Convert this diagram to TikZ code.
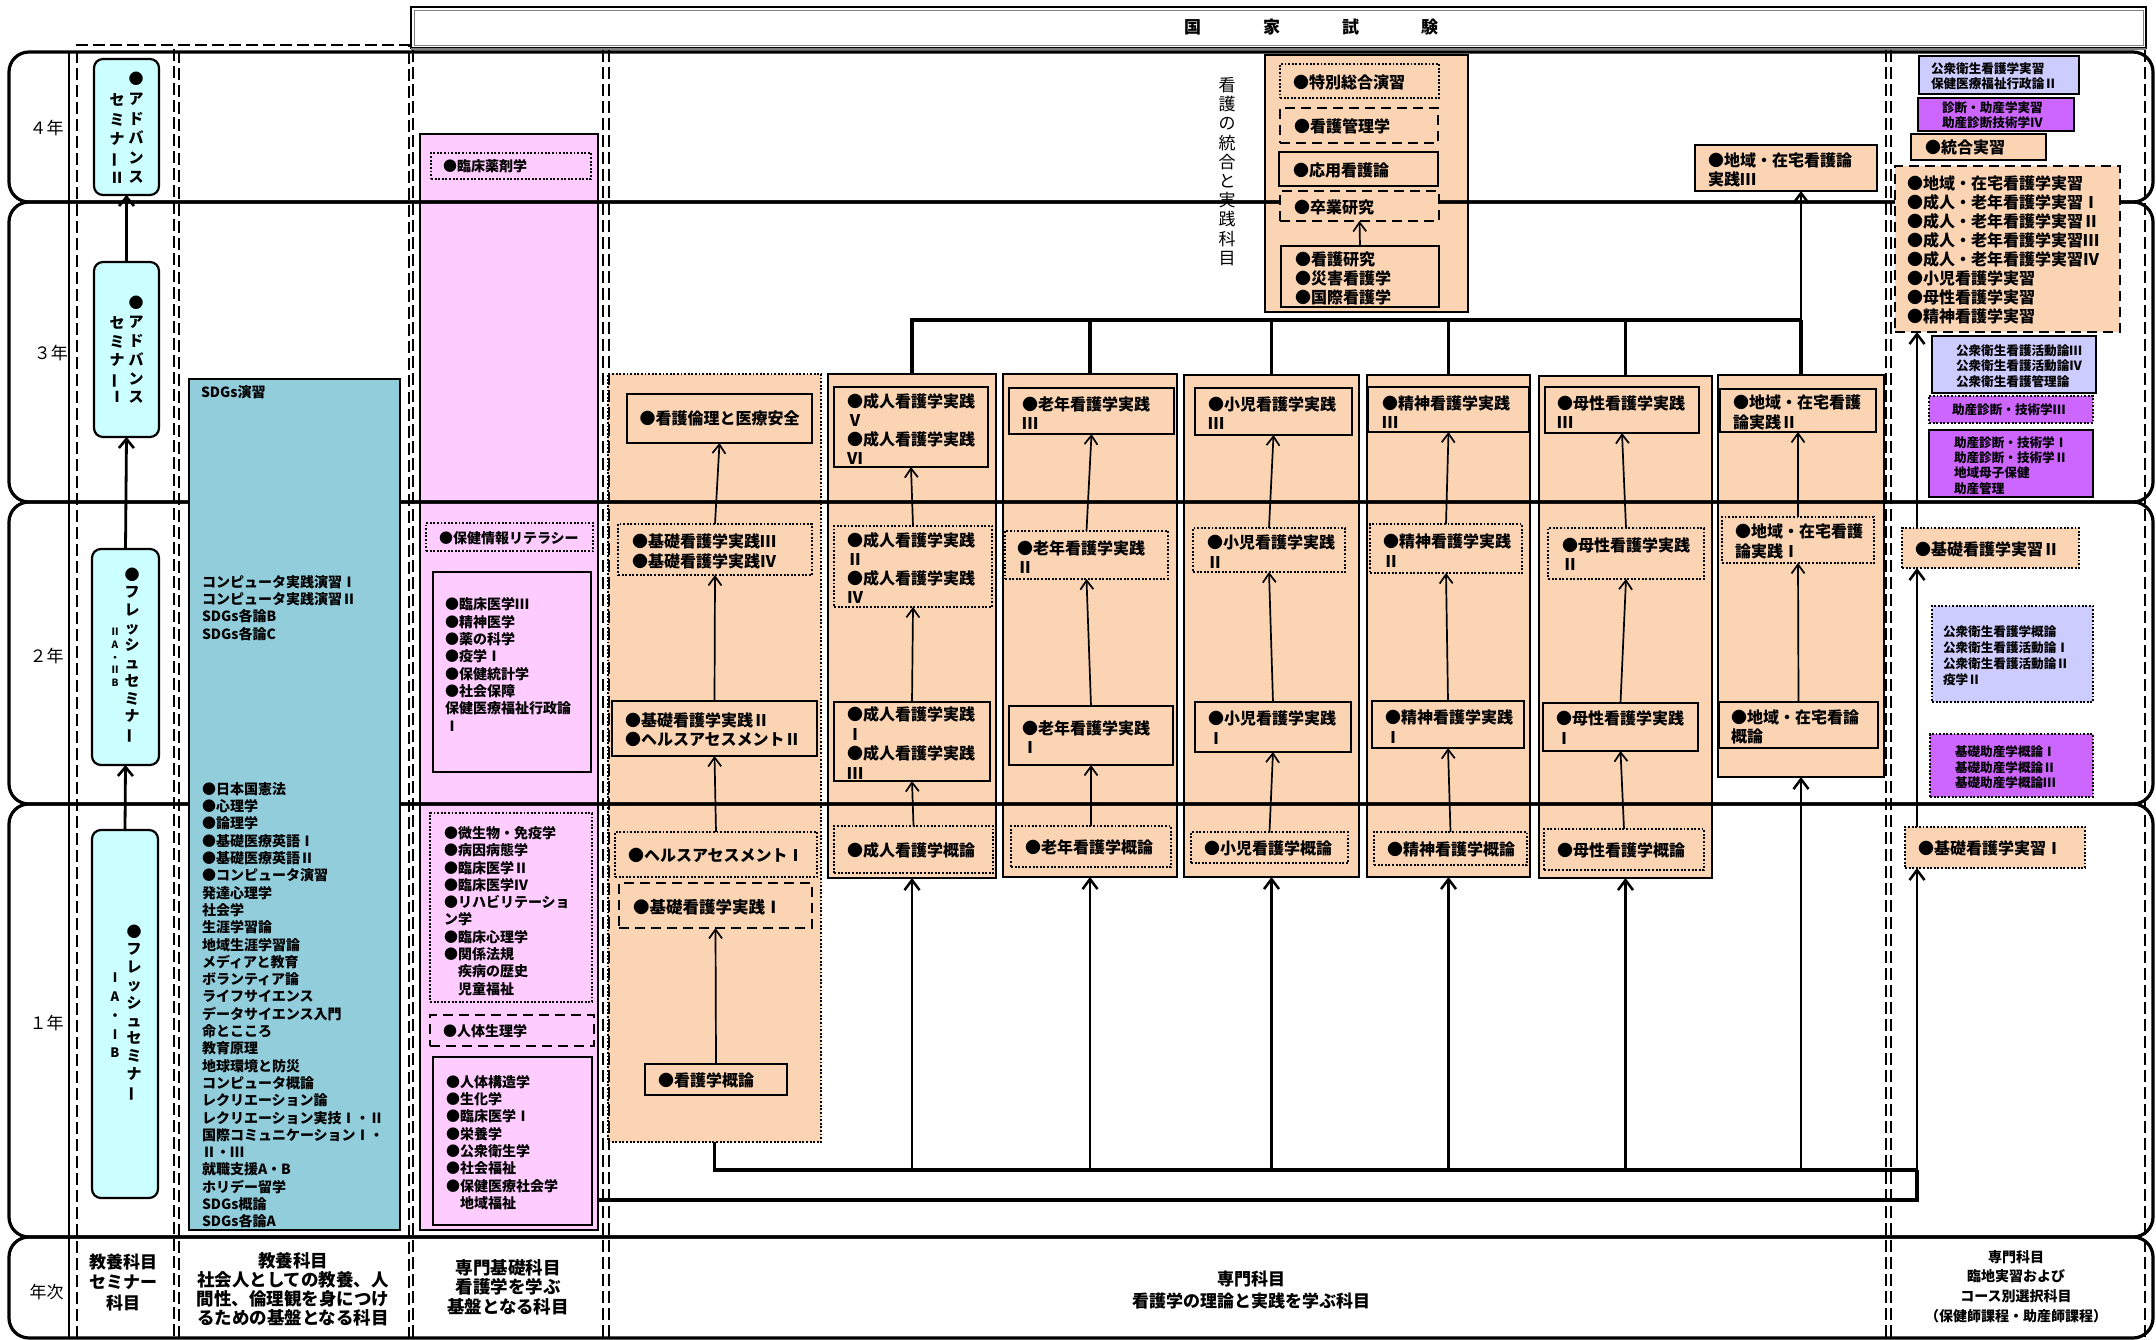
\documentclass[tikz,border=0pt]{standalone}
\usepackage{fontspec}
\setmainfont{Noto Sans CJK JP}
\usetikzlibrary{arrows.meta}
\definecolor{orF}{HTML}{FBD4B4}
\definecolor{pinkF}{HTML}{FFCCFF}
\definecolor{tealF}{HTML}{92CDDC}
\definecolor{cyanF}{HTML}{CCFFFF}
\definecolor{lavF}{HTML}{CCCCFF}
\definecolor{purF}{HTML}{CC66FF}
\newcommand\zfs[2]{\fontsize{#1pt}{#2pt}\selectfont}
\newcommand\zfT{\bfseries\zfs{14}{17.3}}
\newcommand\zfO{\bfseries\zfs{16}{19.3}}
\newcommand\zfR{\bfseries\zfs{12.6}{15.3}}
\newcommand\zv{\rotatebox[origin=c]{90}{ー}}
\newcommand\bx[6][]{\node[#1, anchor=north west, minimum width={(#5-#3)*1pt}, minimum height={(#6-#4)*1pt}, inner sep=0pt, outer sep=0pt] (#2) at (#3,#4) {};}
\newcommand\tx[5]{\node[inner sep=0pt, outer sep=0pt, anchor=west, align=left, font=#4] (#1) at (#2,#3) {#5};}
\tikzset{
  frame/.style={line width=3.2pt, rounded corners=20pt},
  coldash/.style={line width=1.8pt, dash pattern=on 12pt off 5pt},
  sbox/.style={draw, line width=2.2pt},
  dotbox/.style={draw, line width=1.9pt, dash pattern=on 1.9pt off 1.7pt},
  dashbox/.style={draw, line width=2.2pt, dash pattern=on 10pt off 6pt},
  sem/.style={draw, line width=2.2pt, fill=cyanF, rounded corners=9pt},
  arr/.style={line width=1.7pt, -{Straight Barb[length=9pt,width=13pt,line width=1.7pt]}},
  semarr/.style={line width=2.8pt, -{Straight Barb[length=9pt,width=15pt,line width=2.6pt]}},
  thkarr/.style={line width=2.8pt, -{Straight Barb[length=10pt,width=15pt,line width=2.5pt]}},
  thkline/.style={line width=3.6pt},
  conn/.style={line width=3.2pt},
  vt/.style={inner sep=0pt, outer sep=0pt, align=center},
  lbl/.style={inner sep=0pt, outer sep=0pt, align=center}
}
\begin{document}
\begin{tikzpicture}[x=1pt,y=-1pt]
\useasboundingbox (0,0) rectangle (2156,1340);
% top box
\bx[draw, line width=1.2pt]{kokka}{411}{7}{2146}{48}
\draw[line width=0.8pt, gray] (414,10) rectangle (2143,45);
\draw[line width=2pt, gray] (411,49) -- (2146,49);
\node[lbl, font=\bfseries\zfs{17}{20}] (kokkat) at (1311,27) {国\hspace{62pt}家\hspace{62pt}試\hspace{62pt}験};
% column backgrounds
\bx[draw, line width=2.2pt, fill=pinkF]{pinkbox}{420}{134}{598}{1230}
\bx[dotbox, fill=orF]{c1}{608}{374}{821}{1142}
\bx[sbox, fill=orF]{c2}{828}{374}{996}{878}
\bx[sbox, fill=orF]{c3}{1003}{374}{1177}{877}
\bx[sbox, fill=orF]{c4}{1184}{375}{1359}{877}
\bx[sbox, fill=orF]{c5}{1367}{375}{1530}{877}
\bx[sbox, fill=orF]{c6}{1539}{376}{1712}{878}
\bx[sbox, fill=orF]{c7}{1718}{375}{1884}{777}
\bx[sbox, fill=orF]{c4y}{1265}{55}{1468}{312}
% row frames
\foreach \a/\b in {52/202, 202/502, 502/804, 804/1237, 1237/1338}
  \draw[frame] (9,\a) rectangle (2153,\b);
\draw[line width=2.6pt] (69,52) -- (69,1338);
% column dashed frames
\draw[coldash] (77,1338) -- (77,45) -- (174,45) -- (174,1338);
\draw[coldash] (179,1338) -- (179,45) -- (409,45) -- (409,1338);
\draw[coldash] (413,50) -- (413,1338);
\draw[coldash] (603,50) -- (603,1338);
\draw[coldash] (609,50) -- (609,1338);
\draw[coldash] (1886,50) -- (1886,1338);
\draw[coldash] (1891,50) -- (1891,1338);
\draw[coldash] (2145,50) -- (2145,1338);
% year labels
\node[lbl, font=\zfs{17}{20}] (yr4) at (46.5,128) {４年};
\node[lbl, font=\zfs{17}{20}] (yr3) at (51,353) {３年};
\node[lbl, font=\zfs{17}{20}] (yr2) at (46.5,656) {２年};
\node[lbl, font=\zfs{17}{20}] (yr1) at (46.5,1023) {１年};
\node[lbl, font=\zfs{17}{20}] (yrn) at (46.5,1292) {年次};
% seminar boxes
\bx[sem]{s4}{94}{59}{159}{195}
\bx[sem]{s3}{94}{262}{159}{437}
\bx[sem]{s2}{92}{549}{159}{765}
\bx[sem]{s1}{92}{830}{158}{1198}
\node[vt, font=\bfseries\zfs{15}{19.6}] (s4r) at (136,128) {●\\ア\\ド\\バ\\ン\\ス};
\node[vt, font=\bfseries\zfs{15}{19.3}] (s4l) at (117,138.5) {セ\\ミ\\ナ\\\zv\\Ⅱ};
\node[vt, font=\bfseries\zfs{15}{18.8}] (s3r) at (136,350) {●\\ア\\ド\\バ\\ン\\ス};
\node[vt, font=\bfseries\zfs{15}{18.5}] (s3l) at (117,360) {セ\\ミ\\ナ\\\zv\\Ⅰ};
\node[vt, font=\bfseries\zfs{15}{17.7}] (s2r) at (132,655.5) {●\\フ\\レ\\ッ\\シ\\ュ\\セ\\ミ\\ナ\\\zv};
\node[vt, font=\bfseries\zfs{10}{12.7}] (s2l) at (115,657.5) {Ⅱ\\A\\・\\Ⅱ\\B};
\node[vt, font=\bfseries\zfs{15}{17.8}] (s1r) at (134,1013) {●\\フ\\レ\\ッ\\シ\\ュ\\セ\\ミ\\ナ\\\zv};
\node[vt, font=\bfseries\zfs{13}{18.8}] (s1l) at (115,1015.5) {Ⅰ\\A\\・\\Ⅰ\\B};
\draw[semarr] (s1.north) -- (s2.south);
\draw[semarr] (s2.north) -- (s3.south);
\draw[semarr] (s3.north) -- (s4.south);
% teal box
\bx[draw, line width=2.2pt, fill=tealF]{teal}{189}{379}{400}{1230}
\tx{t0}{201}{392}{\zfT}{SDGs演習}
\tx{t1}{202}{608}{\zfT}{コンピュータ実践演習Ⅰ\\コンピュータ実践演習Ⅱ\\SDGs各論B\\SDGs各論C}
\tx{t2}{202}{1005.3}{\zfT}{●日本国憲法\\●心理学\\●論理学\\●基礎医療英語Ⅰ\\●基礎医療英語Ⅱ\\●コンピュータ演習\\発達心理学\\社会学\\生涯学習論\\地域生涯学習論\\メディアと教育\\ボランティア論\\ライフサイエンス\\データサイエンス入門\\命とこころ\\教育原理\\地球環境と防災\\コンピュータ概論\\レクリエーション論\\レクリエーション実技Ⅰ・Ⅱ\\国際コミュニケーションⅠ・\\Ⅱ・Ⅲ\\就職支援A・B\\ホリデー留学\\SDGs概論\\SDGs各論A}
% pink inner
\bx[dotbox]{p4}{431}{153}{591}{179}
\tx{pt4}{443}{166}{\zfT}{●臨床薬剤学}
\bx[dotbox]{p2a}{426}{523}{593}{551}
\tx{pt2a}{439}{538}{\zfT}{●保健情報リテラシー}
\bx[sbox]{p2b}{433}{572}{591}{772}
\tx{pt2b}{445}{664.5}{\zfT}{●臨床医学Ⅲ\\●精神医学\\●薬の科学\\●疫学Ⅰ\\●保健統計学\\●社会保障\\保健医療福祉行政論\\Ⅰ}
\bx[dotbox]{p1a}{430}{813}{592}{1002}
\tx{pt1a}{444}{911}{\zfT}{●微生物・免疫学\\●病因病態学\\●臨床医学Ⅱ\\●臨床医学Ⅳ\\●リハビリテーショ\\ン学\\●臨床心理学\\●関係法規\\　疾病の歴史\\　児童福祉}
\bx[dashbox]{p1b}{430}{1015}{594}{1046}
\tx{pt1b}{443}{1031}{\zfT}{●人体生理学}
\bx[sbox]{p1c}{433}{1057}{592}{1225}
\tx{pt1c}{446}{1142.5}{\zfT}{●人体構造学\\●生化学\\●臨床医学Ⅰ\\●栄養学\\●公衆衛生学\\●社会福祉\\●保健医療社会学\\　地域福祉}
% column 1
\bx[sbox, fill=orF]{k1}{627}{394}{812}{443}
\node[lbl, font=\zfO] (k1t) at (k1) {●看護倫理と医療安全};
\bx[dotbox, fill=orF]{k2}{618}{524}{812}{575}
\tx{k2t}{632}{551.5}{\zfO}{●基礎看護学実践Ⅲ\\●基礎看護学実践Ⅳ}
\bx[sbox, fill=orF]{k3}{612}{701}{817}{756}
\tx{k3t}{625}{730}{\zfO}{●基礎看護学実践Ⅱ\\●ヘルスアセスメントⅡ}
\bx[dotbox, fill=orF]{k4}{615}{832}{817}{877}
\tx{k4t}{628}{855}{\zfO}{●ヘルスアセスメントⅠ}
\bx[dashbox, fill=orF]{k5}{619}{883}{812}{928}
\tx{k5t}{633}{907}{\bfseries\zfs{16.5}{19}}{●基礎看護学実践Ⅰ}
\bx[sbox, fill=orF]{k6}{645}{1064}{787}{1095}
\tx{k6t}{658}{1080}{\zfO}{●看護学概論}
\draw[arr] (k6.north) -- (k5.south);
\draw[arr] (k4.north) -- (k3.south);
\draw[arr] (k3.north) -- (k2.south);
\draw[arr] (k2.north) -- (k1.south);
% column 2
\bx[sbox, fill=orF]{a4}{834}{387}{988}{467}
\tx{a4t}{847}{429.5}{\bfseries\zfs{16}{19}}{●成人看護学実践\\Ⅴ\\●成人看護学実践\\Ⅵ}
\bx[dotbox, fill=orF]{a3}{834}{526}{992}{607}
\tx{a3t}{847}{568}{\bfseries\zfs{16}{19}}{●成人看護学実践\\Ⅱ\\●成人看護学実践\\Ⅳ}
\bx[sbox, fill=orF]{a2}{834}{702}{990}{781}
\tx{a2t}{847}{743}{\bfseries\zfs{16}{19.5}}{●成人看護学実践\\Ⅰ\\●成人看護学実践\\Ⅲ}
\bx[dotbox, fill=orF]{a1}{834}{826}{993}{873}
\tx{a1t}{847}{850}{\zfO}{●成人看護学概論}
\draw[arr] (a1.north) -- (a2.south);
\draw[arr] (a2.north) -- (a3.south);
\draw[arr] (a3.north) -- (a4.south);
% column 3
\bx[sbox, fill=orF]{r3}{1009}{388}{1174}{434}
\tx{r3t}{1022}{413}{\zfO}{●老年看護学実践\\Ⅲ}
\bx[dotbox, fill=orF]{r2}{1005}{531}{1168}{579}
\tx{r2t}{1017}{557}{\zfO}{●老年看護学実践\\Ⅱ}
\bx[sbox, fill=orF]{r1}{1009}{706}{1173}{765}
\tx{r1t}{1022}{737}{\zfO}{●老年看護学実践\\Ⅰ}
\bx[dotbox, fill=orF]{r0}{1011}{826}{1171}{867}
\tx{r0t}{1025}{847}{\zfO}{●老年看護学概論}
\draw[arr] (r0.north) -- (r1.south);
\draw[arr] (r1.north) -- (r2.south);
\draw[arr] (r2.north) -- (r3.south);
% column 4
\bx[sbox, fill=orF]{n3}{1195}{388}{1352}{435}
\tx{n3t}{1208}{413}{\zfO}{●小児看護学実践\\Ⅲ}
\bx[dotbox, fill=orF]{n2}{1193}{528}{1345}{572}
\tx{n2t}{1207}{551.5}{\zfO}{●小児看護学実践\\Ⅱ}
\bx[sbox, fill=orF]{n1}{1195}{702}{1351}{752}
\tx{n1t}{1208}{727.5}{\zfO}{●小児看護学実践\\Ⅰ}
\bx[dotbox, fill=orF]{n0}{1191}{832}{1348}{863}
\tx{n0t}{1204}{848}{\zfO}{●小児看護学概論}
\draw[arr] (n0.north) -- (n1.south);
\draw[arr] (n1.north) -- (n2.south);
\draw[arr] (n2.north) -- (n3.south);
% column 5
\bx[sbox, fill=orF]{m3}{1368}{387}{1529}{432}
\tx{m3t}{1382}{412}{\zfO}{●精神看護学実践\\Ⅲ}
\bx[dotbox, fill=orF]{m2}{1370}{524}{1522}{573}
\tx{m2t}{1383}{550.5}{\zfO}{●精神看護学実践\\Ⅱ}
\bx[sbox, fill=orF]{m1}{1372}{701}{1524}{748}
\tx{m1t}{1385}{726.5}{\zfO}{●精神看護学実践\\Ⅰ}
\bx[dotbox, fill=orF]{m0}{1374}{832}{1527}{865}
\tx{m0t}{1387}{849}{\zfO}{●精神看護学概論}
\draw[arr] (m0.north) -- (m1.south);
\draw[arr] (m1.north) -- (m2.south);
\draw[arr] (m2.north) -- (m3.south);
% column 6
\bx[sbox, fill=orF]{b3}{1545}{387}{1699}{433}
\tx{b3t}{1557}{412}{\zfO}{●母性看護学実践\\Ⅲ}
\bx[dotbox, fill=orF]{b2}{1548}{528}{1704}{579}
\tx{b2t}{1562}{554}{\zfO}{●母性看護学実践\\Ⅱ}
\bx[sbox, fill=orF]{b1}{1543}{703}{1698}{751}
\tx{b1t}{1556}{727.5}{\zfO}{●母性看護学実践\\Ⅰ}
\bx[dotbox, fill=orF]{b0}{1544}{829}{1704}{870}
\tx{b0t}{1557}{850}{\zfO}{●母性看護学概論}
\draw[arr] (b0.north) -- (b1.south);
\draw[arr] (b1.north) -- (b2.south);
\draw[arr] (b2.north) -- (b3.south);
% column 7
\bx[sbox, fill=orF]{z2}{1720}{389}{1876}{432}
\tx{z2t}{1733}{412.5}{\zfO}{●地域・在宅看護\\論実践Ⅱ}
\bx[dotbox, fill=orF]{z1}{1722}{517}{1874}{563}
\tx{z1t}{1735}{541.5}{\zfO}{●地域・在宅看護\\論実践Ⅰ}
\bx[sbox, fill=orF]{z0}{1719}{702}{1878}{748}
\tx{z0t}{1731}{727}{\zfO}{●地域・在宅看論\\概論}
\draw[arr] (z0.north) -- (z1.south);
\draw[arr] (z1.north) -- (z2.south);
\bx[sbox, fill=orF]{z3}{1695}{145}{1877}{191}
\tx{z3t}{1708}{170}{\zfO}{●地域・在宅看護論\\実践Ⅲ}
% 4th year integration box
\bx[dotbox, fill=orF]{y1}{1280}{64}{1439}{98}
\tx{y1t}{1293}{82}{\zfO}{●特別総合演習}
\bx[dashbox, fill=orF]{y2}{1280}{108}{1438}{143}
\tx{y2t}{1294}{126}{\zfO}{●看護管理学}
\bx[sbox, fill=orF]{y3}{1279}{152}{1438}{186}
\tx{y3t}{1293}{170}{\zfO}{●応用看護論}
\bx[dashbox, fill=orF]{y4}{1280}{191}{1439}{221}
\tx{y4t}{1294}{207}{\zfO}{●卒業研究}
\bx[sbox, fill=orF]{y5}{1281}{246}{1439}{307}
\tx{y5t}{1295}{278}{\bfseries\zfs{16}{19}}{●看護研究\\●災害看護学\\●国際看護学}
\draw[arr] (y5.north) -- (y4.south);
\node[vt, font=\zfs{17}{19.2}] (vint) at (1227,171.5) {看\\護\\の\\統\\合\\と\\実\\践\\科\\目};
% right column
\bx[sbox, fill=lavF]{e1}{1919}{56}{2079}{94}
\tx{e1t}{1931}{76.5}{\zfR}{公衆衛生看護学実習\\保健医療福祉行政論Ⅱ}
\bx[sbox, fill=purF]{e2}{1918}{98}{2074}{131}
\tx{e2t}{1942}{115.5}{\zfR}{診断・助産学実習\\助産診断技術学Ⅳ}
\bx[sbox, fill=orF]{e3}{1911}{134}{2046}{160}
\tx{e3t}{1925}{147.5}{\zfO}{●統合実習}
\bx[dashbox, fill=orF]{e4}{1895}{166}{2120}{332}
\tx{e4t}{1907}{250}{\bfseries\zfs{16}{19.1}}{●地域・在宅看護学実習\\●成人・老年看護学実習Ⅰ\\●成人・老年看護学実習Ⅱ\\●成人・老年看護学実習Ⅲ\\●成人・老年看護学実習Ⅳ\\●小児看護学実習\\●母性看護学実習\\●精神看護学実習}
\bx[sbox, fill=lavF]{e5}{1932}{336}{2096}{393}
\tx{e5t}{1956}{366}{\zfR}{公衆衛生看護活動論Ⅲ\\公衆衛生看護活動論Ⅳ\\公衆衛生看護管理論}
\bx[dotbox, fill=purF]{e6}{1929}{396}{2093}{423}
\tx{e6t}{1952}{410}{\zfR}{助産診断・技術学Ⅲ}
\bx[sbox, fill=purF]{e7}{1929}{430}{2093}{497}
\tx{e7t}{1954}{465.5}{\zfR}{助産診断・技術学Ⅰ\\助産診断・技術学Ⅱ\\地域母子保健\\助産管理}
\bx[dotbox, fill=orF]{e8}{1902}{528}{2079}{568}
\tx{e8t}{1915}{549}{\zfO}{●基礎看護学実習Ⅱ}
\bx[dotbox, fill=lavF]{e9}{1932}{606}{2093}{702}
\tx{e9t}{1943}{656}{\bfseries\zfs{12.6}{16}}{公衆衛生看護学概論\\公衆衛生看護活動論Ⅰ\\公衆衛生看護活動論Ⅱ\\疫学Ⅱ}
\bx[dotbox, fill=purF]{e10}{1930}{734}{2093}{797}
\tx{e10t}{1955}{767.5}{\bfseries\zfs{12.6}{15.5}}{基礎助産学概論Ⅰ\\基礎助産学概論Ⅱ\\基礎助産学概論Ⅲ}
\bx[dotbox, fill=orF]{e11}{1905}{827}{2085}{868}
\tx{e11t}{1918}{848}{\zfO}{●基礎看護学実習Ⅰ}
% connectors
\coordinate (ex) at (1917,1200);
\coordinate (la) at (1917,1170);
\coordinate (lt) at (0,320);
\draw[thkarr] (ex |- e11.north) -- (ex |- e8.south);
\draw[thkarr] (ex |- e8.north) -- (ex |- e4.south);
\draw[thkline] (pinkbox.east |- ex) -- (ex) -- (la);
\draw[thkarr] (la) -- (ex |- e11.south);
\draw[thkline] (c1.south) -- (c1.south |- la) -- (la);
\foreach \c in {c2,c3,c4,c5,c6,c7}
  \draw[thkarr] (\c.south |- la) -- (\c.south);
\draw[conn] (c2.north) -- (c2.north |- lt) -- (c7.north |- lt);
\foreach \c in {c3,c4,c5,c6}
  \draw[conn] (\c.north |- lt) -- (\c.north);
\draw[conn] (c7.north) -- (c7.north |- lt);
\draw[thkarr] (c7.north |- lt) -- (c7.north |- z3.south);
% bottom labels
\node[lbl, font=\bfseries\zfs{17}{20.5}] (lbA) at (123,1282) {教養科目\\セミナー\\科目};
\node[lbl, font=\bfseries\zfs{17.5}{19}] (lbB) at (293,1289) {教養科目\\社会人としての教養、人\\間性、倫理観を身につけ\\るための基盤となる科目};
\node[lbl, font=\bfseries\zfs{17.5}{19.5}] (lbC) at (508,1287) {専門基礎科目\\看護学を学ぶ\\基盤となる科目};
\node[lbl, font=\bfseries\zfs{17}{22}] (lbD) at (1251,1290) {専門科目\\看護学の理論と実践を学ぶ科目};
\node[lbl, font=\bfseries\zfs{14}{19.7}] (lbE) at (2016,1286.5) {専門科目\\臨地実習および\\コース別選択科目\\（保健師課程・助産師課程）};
\end{tikzpicture}
\end{document}
